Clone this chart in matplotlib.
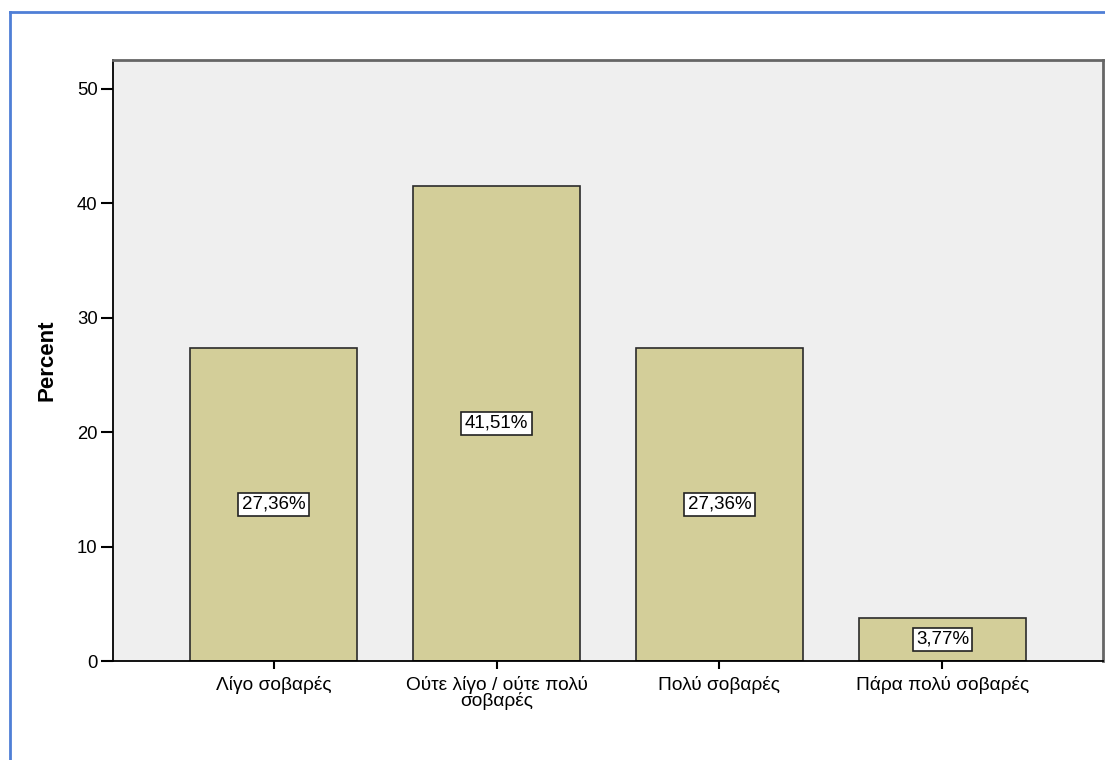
import matplotlib.pyplot as plt
from matplotlib.lines import Line2D

plt.rcParams['font.family'] = ['Liberation Sans', 'DejaVu Sans']

categories = ['Λίγο σοβαρές', 'Ούτε λίγο / ούτε πολύ\nσοβαρές', 'Πολύ σοβαρές', 'Πάρα πολύ σοβαρές']
percents = [27.36, 41.51, 27.36, 3.77]
labels = ['27,36%', '41,51%', '27,36%', '3,77%']
yticks = [0, 10, 20, 30, 40, 50]

fig = plt.figure(figsize=(11.05, 7.6), dpi=100)
ax = fig.add_axes([113 / 1105, 1 - 661 / 760, 990 / 1105, 601 / 760])
ax.set_facecolor('#efefef')

x = list(range(len(categories)))
ax.bar(x, percents, width=0.75, color='#d3ce99', edgecolor='#2b2b2b', linewidth=1.2, zorder=2)

for xi, v, lab in zip(x, percents, labels):
    ax.text(xi, v / 2, lab, ha='center', va='center', fontsize=13.5, zorder=3,
            bbox=dict(boxstyle='square,pad=0.18', facecolor='white', edgecolor='#222222', linewidth=1.2))

ax.set_xlim(-0.72, 3.72)
ax.set_ylim(0, 52.5)
ax.set_yticks(yticks)
ax.set_xticks(x)
ax.set_xticklabels(categories, fontsize=13.8, linespacing=0.88)
ax.tick_params(axis='y', labelsize=13.3, length=9, width=1.5, pad=2)
ax.tick_params(axis='x', length=6, width=1.5, pad=4.5)
ax.set_ylabel('Percent', fontsize=16, fontweight='bold', labelpad=14)

for side in ['left', 'bottom']:
    ax.spines[side].set_color('black')
    ax.spines[side].set_linewidth(1.3)
for side in ['top', 'right']:
    ax.spines[side].set_color('#666666')
    ax.spines[side].set_linewidth(2)

# blue frame on the left and top edges
blue = '#4f7fd6'
fig.add_artist(Line2D([9.5 / 1105, 9.5 / 1105], [0, 1 - 11.5 / 760], color=blue, linewidth=2, transform=fig.transFigure))
fig.add_artist(Line2D([9.5 / 1105, 1], [1 - 11.5 / 760, 1 - 11.5 / 760], color=blue, linewidth=2, transform=fig.transFigure))

fig.savefig('out.png', dpi=100)
